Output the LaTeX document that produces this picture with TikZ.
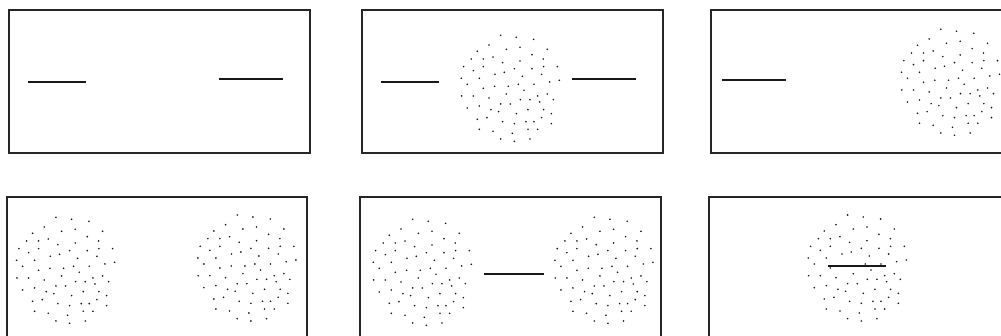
\documentclass[tikz,border=0pt]{standalone}
\begin{document}
\begin{tikzpicture}[x=0.75pt,y=-0.75pt,
  panel/.style={draw=black!85,line width=1.2pt},
  seg/.style={draw=black!90,line width=1.3pt},
  dotfill/.style={fill=black!90}]
\useasboundingbox (0,0) rectangle (1001,336);
\clip (0,0) rectangle (1001,336);
\newcommand\mycloud[2]{%
  \foreach \a/\b in {137/22,184/28,236/34,102/51,154/64,195/58,277/64,67/70,231/80,
    49/93,85/93,114/87,195/99,265/93,143/104,26/116,55/128,85/116,178/122,231/122,
    266/116,307/116,120/139,148/133,260/139,19/151,73/151,202/145,284/162,313/157,
    37/169,119/175,160/175,190/169,237/169,85/181,207/187,20/204,55/204,154/198,
    277/198,248/204,102/210,196/215,225/215,295/215,254/222,137/228,166/228,
    37/240,73/234,108/245,131/251,184/257,219/245,266/245,289/257,96/269,260/269,
    67/274,143/281,178/287,213/281,289/287,237/281,73/304,114/310,219/304,248/304,
    172/316,137/333,178/340,225/333}
    {\fill[dotfill] ({#1+(\a-166)/3},{#2+(\b-181)/3}) circle[radius=0.68pt];}%
}
% panels
\draw[panel] (9,10) rectangle (310,153);
\draw[panel] (362,10) rectangle (663,153);
\draw[panel] (711,10) rectangle (1012,153);
\draw[panel] (7,197) rectangle (307,340);
\draw[panel] (360,197) rectangle (661,340);
\draw[panel] (709,197) rectangle (1010,340);
% panel 1
\draw[seg] (28,82.3) -- (86,82.3);
\draw[seg] (219,78.7) -- (283,78.7);
% panel 2
\draw[seg] (381,82.3) -- (439,82.3);
\draw[seg] (572,78.8) -- (636,78.8);
\mycloud{510.3}{88.3}
% panel 3
\draw[seg] (722,80.3) -- (786,80.3);
\mycloud{950.5}{82.3}
% panel 4
\mycloud{65.6}{270.3}
\mycloud{246.9}{268}
% panel 5
\mycloud{422.3}{272.3}
\mycloud{603.9}{270.3}
\draw[seg] (484,274.3) -- (544,274.3);
% panel 6
\draw[seg] (828,266) -- (886,266);
\mycloud{857.3}{268}
\end{tikzpicture}
\end{document}
